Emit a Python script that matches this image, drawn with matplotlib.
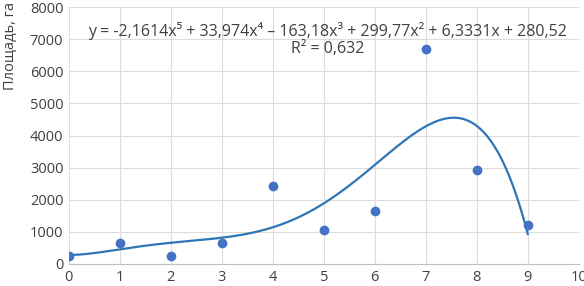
import numpy as np
import matplotlib
matplotlib.use("Agg")
from matplotlib import pyplot as plt

plt.rcParams['font.family'] = ['Open Sans', 'DejaVu Sans']

years = [0, 1, 2, 3, 4, 5, 6, 7, 8, 9]
area = [250, 640, 250, 640, 2430, 1050, 1660, 6700, 2930, 1200]
# trendline coefficients as printed on the chart (x^5 ... x^0)
coefs = [-2.1614, 33.974, -163.18, 299.77, 6.3331, 280.52]
r2_label = "R² = 0,632"
eq_label = "y = -2,1614x⁵ + 33,974x⁴ – 163,18x³ + 299,77x² + 6,3331x + 280,52"

fig = plt.figure(figsize=(5.84, 2.86), dpi=100)
ax = fig.add_axes([0.118, 0.077, 0.873, 0.898])

xs = np.linspace(years[0], years[-1], 300)
ax.plot(xs, np.polyval(coefs, xs), color="#2e75b6", lw=1.6, zorder=3)
ax.plot(years, area, "o", color="#4472c4", ms=6, zorder=4)

ax.set_xlim(0, 10)
ax.set_ylim(0, 8000)
ax.set_xticks(range(0, 11))
ax.set_yticks(range(0, 8001, 1000))
ax.grid(True, color="#dcdcdc", lw=0.8)
ax.set_axisbelow(True)
for s in ["top", "right", "left"]:
    ax.spines[s].set_visible(False)
ax.spines["bottom"].set_color("#bfbfbf")
ax.tick_params(length=0, labelsize=10.5, colors="#404040", pad=4)

ax.text(5.08, 7000, eq_label + "\n" + r2_label, ha="center", va="center",
        fontsize=11.5, color="#404040", linespacing=1.05)

fig.text(0.005, 0.995, "Площадь, га", rotation=90, ha="left", va="top",
         fontsize=10.5, color="#404040")

fig.savefig("out.png", dpi=100)
